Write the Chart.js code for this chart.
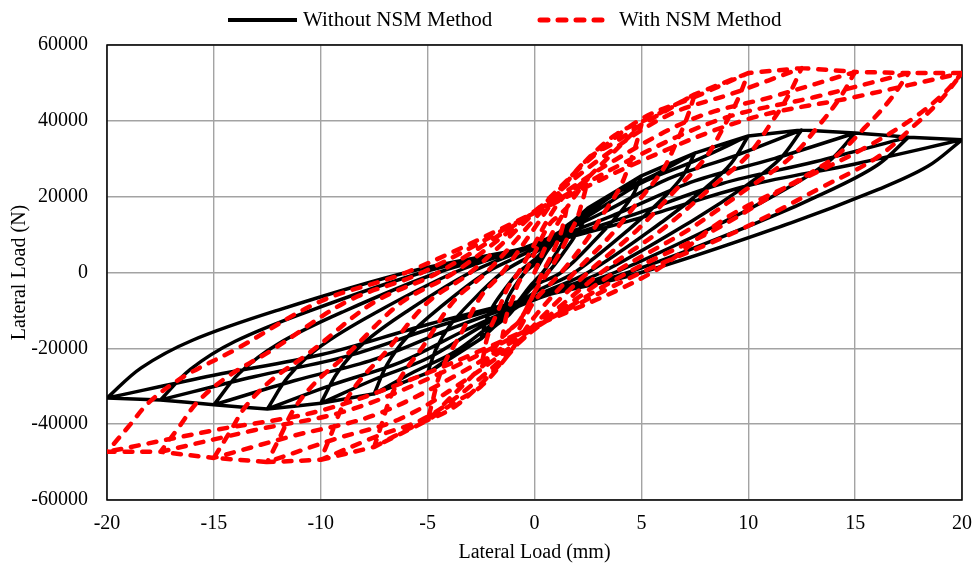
<!DOCTYPE html>
<html>
<head>
<meta charset="utf-8">
<script src="https://cdn.jsdelivr.net/npm/chart.js@4.4.0/dist/chart.umd.min.js"></script>
<style>
  html, body { margin: 0; padding: 0; background: #fff; }
  canvas { display: block; }
</style>
</head>
<body>
<canvas id="hysteresis" width="973" height="567"></canvas>
<script>
// axis ticks
const xTicks = [-20, -15, -10, -5, 0, 5, 10, 15, 20];
const yTicks = [-60000, -40000, -20000, 0, 20000, 40000, 60000];
const seriesNames = ["Without NSM Method", "With NSM Method"];

// load path without NSM, one branch per line [disp mm, load N]
const noNsmPath = [
    [[0,0],[0.7,6500],[1.5,11000]],
    [[1.5,11000],[1.38,8800],[1.2,6820],[0.9,4110],[0.375,0],[0,-2300],[-0.375,-4760],[-0.75,-7540],[-1.125,-9410],[-1.5,-11500]],
    [[-1.5,-11500],[-1.38,-8740],[-1.2,-6210],[-0.9,-3450],[-0.45,0],[0,2200],[0.375,4550],[0.75,7220],[1.125,9000],[1.5,11000]],
    [[1.5,11000],[2.5,17000]],
    [[2.5,17000],[2.3,13600],[2,10540],[1.5,6360],[0.625,0],[0,-2300],[-0.375,-4760],[-0.75,-7540],[-1.125,-9410],[-1.5,-11500]],
    [[-1.5,-11500],[-2.5,-17500]],
    [[-2.5,-17500],[-2.3,-13300],[-2,-9450],[-1.5,-5250],[-0.75,0],[0,3400],[0.625,7040],[1.25,11150],[1.875,13900],[2.5,17000]],
    [[2.5,17000],[5,25500]],
    [[5,25500],[4.6,20400],[4,15810],[3,9540],[1.25,0],[0,-3500],[-0.625,-7250],[-1.25,-11500],[-1.875,-14300],[-2.5,-17500]],
    [[-2.5,-17500],[-5,-26500]],
    [[-5,-26500],[-4.6,-20100],[-4,-14300],[-3,-7950],[-1.5,0],[0,5100],[1.25,10560],[2.5,16730],[3.75,20860],[5,25500]],
    [[5,25500],[7.5,31500]],
    [[7.5,31500],[6.9,25200],[6,19530],[4.5,11780],[1.875,0],[0,-5300],[-1.25,-10970],[-2.5,-17380],[-3.75,-21680],[-5,-26500]],
    [[-5,-26500],[-7.5,-32000]],
    [[-7.5,-32000],[-6.9,-24320],[-6,-17280],[-4.5,-9600],[-2.25,0],[0,6300],[1.875,13040],[3.75,20660],[5.625,25770],[7.5,31500]],
    [[7.5,31500],[10,36000]],
    [[10,36000],[9.2,28800],[8,22320],[6,13460],[2.5,0],[0,-6400],[-1.875,-13250],[-3.75,-20990],[-5.625,-26180],[-7.5,-32000]],
    [[-7.5,-32000],[-10,-34500]],
    [[-10,-34500],[-9.2,-26220],[-8,-18630],[-6,-10350],[-3,0],[0,7200],[2.5,14900],[5,23620],[7.5,29450],[10,36000]],
    [[10,36000],[12.5,37600]],
    [[12.5,37600],[11.5,30080],[10,23310],[7.5,14060],[3.125,0],[0,-6900],[-2.5,-14280],[-5,-22630],[-7.5,-28220],[-10,-34500]],
    [[-10,-34500],[-12.5,-36000]],
    [[-12.5,-36000],[-11.5,-27360],[-10,-19440],[-7.5,-10800],[-3.75,0],[0,7520],[3.125,15570],[6.25,24670],[9.375,30760],[12.5,37600]],
    [[12.5,37600],[15,36800]],
    [[15,36800],[13.8,29440],[12,22820],[9,13760],[3.75,0],[0,-7200],[-3.125,-14900],[-6.25,-23620],[-9.375,-29450],[-12.5,-36000]],
    [[-12.5,-36000],[-15,-34900]],
    [[-15,-34900],[-13.8,-26520],[-12,-18850],[-9,-10470],[-4.5,0],[0,7360],[3.75,15240],[7.5,24140],[11.25,30100],[15,36800]],
    [[15,36800],[17.5,35700]],
    [[17.5,35700],[16.1,28560],[14,22130],[10.5,13350],[4.375,0],[0,-6980],[-3.75,-14450],[-7.5,-22890],[-11.25,-28550],[-15,-34900]],
    [[-15,-34900],[-17.5,-33600]],
    [[-17.5,-33600],[-16.1,-25540],[-14,-18140],[-10.5,-10080],[-5.25,0],[0,7140],[4.375,14780],[8.75,23420],[13.125,29200],[17.5,35700]],
    [[17.5,35700],[20,35000]],
    [[20,35000],[18.4,28000],[16,21700],[12,13090],[5,0],[0,-6720],[-4.375,-13910],[-8.75,-22040],[-13.125,-27480],[-17.5,-33600]],
    [[-17.5,-33600],[-20,-33100]],
    [[-20,-33100],[-18.4,-25160],[-16,-17870],[-12,-9930],[-6,0],[0,7000],[5,14490],[10,22960],[15,28630],[20,35000]],
    [[20,35000],[18.4,28000],[16,21700],[12,13090],[5,0],[0,-6620],[-5,-13700],[-10,-21710],[-15,-27080],[-20,-33100]]
];

// load path with NSM
const nsmPath = [
    [[0,0],[0.7,9000],[1.5,17000]],
    [[1.5,17000],[1.425,14700],[1.33,12410],[1.2,9780],[0.99,7040],[0.72,3620],[0.375,0],[0,-5100],[-0.375,-9520],[-0.75,-13090],[-1.125,-14960],[-1.5,-17000]],
    [[-1.5,-17000],[-1.425,-14620],[-1.35,-12240],[-1.23,-9860],[-1.05,-7310],[-0.75,-2720],[-0.45,0],[0,5100],[0.375,9520],[0.75,13090],[1.125,14960],[1.5,17000]],
    [[1.5,17000],[2.5,25000]],
    [[2.5,25000],[2.375,21630],[2.21,18250],[2,14380],[1.65,10350],[1.2,5330],[0.625,0],[0,-5100],[-0.375,-9520],[-0.75,-13090],[-1.125,-14960],[-1.5,-17000]],
    [[-1.5,-17000],[-2.5,-25000]],
    [[-2.5,-25000],[-2.375,-21500],[-2.25,-18000],[-2.05,-14500],[-1.75,-10750],[-1.25,-4000],[-0.75,0],[0,7500],[0.625,14000],[1.25,19250],[1.875,22000],[2.5,25000]],
    [[2.5,25000],[5,39000]],
    [[5,39000],[4.75,33740],[4.43,28470],[4,22430],[3.3,16150],[2.4,8310],[1.25,0],[0,-7500],[-0.625,-14000],[-1.25,-19250],[-1.875,-22000],[-2.5,-25000]],
    [[-2.5,-25000],[-5,-39000]],
    [[-5,-39000],[-4.75,-33540],[-4.5,-28080],[-4.1,-22620],[-3.5,-16770],[-2.5,-6240],[-1.5,0],[0,11700],[1.25,21840],[2.5,30030],[3.75,34320],[5,39000]],
    [[5,39000],[7.5,47000]],
    [[7.5,47000],[7.125,40660],[6.64,34310],[6,27030],[4.95,19460],[3.6,10010],[1.875,0],[0,-11700],[-1.25,-21840],[-2.5,-30030],[-3.75,-34320],[-5,-39000]],
    [[-5,-39000],[-7.5,-46000]],
    [[-7.5,-46000],[-7.125,-39560],[-6.75,-33120],[-6.15,-26680],[-5.25,-19780],[-3.75,-7360],[-2.25,0],[0,14100],[1.875,26320],[3.75,36190],[5.625,41360],[7.5,47000]],
    [[7.5,47000],[10,52600]],
    [[10,52600],[9.5,45500],[8.85,38400],[8,30250],[6.6,21780],[4.8,11200],[2.5,0],[0,-13800],[-1.875,-25760],[-3.75,-35420],[-5.625,-40480],[-7.5,-46000]],
    [[-7.5,-46000],[-10,-49400]],
    [[-10,-49400],[-9.5,-42480],[-9,-35570],[-8.2,-28650],[-7,-21240],[-5,-7900],[-3,0],[0,15780],[2.5,29460],[5,40500],[7.5,46290],[10,52600]],
    [[10,52600],[12.5,53900]],
    [[12.5,53900],[11.875,46620],[11.06,39350],[10,30990],[8.25,22310],[6,11480],[3.125,0],[0,-14820],[-2.5,-27660],[-5,-38040],[-7.5,-43470],[-10,-49400]],
    [[-10,-49400],[-12.5,-50000]],
    [[-12.5,-50000],[-11.875,-43000],[-11.25,-36000],[-10.25,-29000],[-8.75,-21500],[-6.25,-8000],[-3.75,0],[0,16170],[3.125,30180],[6.25,41500],[9.375,47430],[12.5,53900]],
    [[12.5,53900],[15,52900]],
    [[15,52900],[14.25,45760],[13.28,38620],[12,30420],[9.9,21900],[7.2,11270],[3.75,0],[0,-15000],[-3.125,-28000],[-6.25,-38500],[-9.375,-44000],[-12.5,-50000]],
    [[-12.5,-50000],[-15,-48900]],
    [[-15,-48900],[-14.25,-42050],[-13.5,-35210],[-12.3,-28360],[-10.5,-21030],[-7.5,-7820],[-4.5,0],[0,15870],[3.75,29620],[7.5,40730],[11.25,46550],[15,52900]],
    [[15,52900],[17.5,52600]],
    [[17.5,52600],[16.625,45500],[15.49,38400],[14,30250],[11.55,21780],[8.4,11200],[4.375,0],[0,-14670],[-3.75,-27380],[-7.5,-37650],[-11.25,-43030],[-15,-48900]],
    [[-15,-48900],[-17.5,-47300]],
    [[-17.5,-47300],[-16.625,-40680],[-15.75,-34060],[-14.35,-27430],[-12.25,-20340],[-8.75,-7570],[-5.25,0],[0,15780],[4.375,29460],[8.75,40500],[13.125,46290],[17.5,52600]],
    [[17.5,52600],[20,52600]],
    [[20,52600],[19,45500],[17.7,38400],[16,30250],[13.2,21780],[9.6,11200],[5,0],[0,-14190],[-4.375,-26490],[-8.75,-36420],[-13.125,-41620],[-17.5,-47300]],
    [[-17.5,-47300],[-20,-47300]],
    [[-20,-47300],[-19,-40680],[-18,-34060],[-16.4,-27430],[-14,-20340],[-10,-7570],[-6,0],[0,15780],[5,29460],[10,40500],[15,46290],[20,52600]],
    [[20,52600],[19.2,47500],[17.8,41000],[15.5,33000],[12.5,24500],[9,14500],[5.5,0],[0,-14190],[-5,-26490],[-10,-36420],[-15,-41620],[-20,-47300]]
];

const FONT = '"Liberation Serif", "Times New Roman", serif';

// branches share their end points, which keeps the load reversals sharp
const toPoints = branches => branches.flat().map(([x, y]) => ({ x, y }));

// black frame round the plot area
const plotFrame = {
    id: 'plotFrame',
    beforeDatasetsDraw(chart) {
        const { ctx, chartArea: a } = chart;
        ctx.save();
        ctx.strokeStyle = '#000';
        ctx.lineWidth = 1.5;
        ctx.strokeRect(a.left, a.top, a.right - a.left, a.bottom - a.top);
        ctx.restore();
    }
};

// legend row above the plot
const legendSpots = [{ x0: 228, x1: 297, tx: 303 }, { x0: 540, x1: 612, tx: 619 }];
const topLegend = {
    id: 'topLegend',
    afterDraw(chart) {
        const ctx = chart.ctx;
        const y = 20;
        ctx.save();
        ctx.font = '21px ' + FONT;
        ctx.textBaseline = 'middle';
        ctx.fillStyle = '#000';
        chart.data.datasets.forEach((ds, i) => {
            const s = legendSpots[i];
            ctx.beginPath();
            ctx.strokeStyle = ds.borderColor;
            ctx.lineWidth = ds.borderWidth + 0.5;
            ctx.lineCap = ds.borderCapStyle || 'butt';
            ctx.setLineDash(ds.borderDash || []);
            ctx.moveTo(s.x0, y);
            ctx.lineTo(s.x1, y);
            ctx.stroke();
            ctx.fillText(ds.label, s.tx, y);
        });
        ctx.restore();
    }
};

const ctx = document.getElementById('hysteresis');

new Chart(ctx, {
    type: 'scatter',
    data: {
        datasets: [
            {
                label: seriesNames[0],
                data: toPoints(noNsmPath),
                showLine: true,
                borderColor: '#000000',
                borderWidth: 3.5,
                borderJoinStyle: 'round',
                pointRadius: 0,
                tension: 0.35,
                order: 2
            },
            {
                label: seriesNames[1],
                data: toPoints(nsmPath),
                showLine: true,
                borderColor: '#ff0000',
                borderWidth: 4.5,
                borderDash: [8, 10],
                borderCapStyle: 'round',
                borderJoinStyle: 'round',
                pointRadius: 0,
                tension: 0.35,
                order: 1
            }
        ]
    },
    options: {
        responsive: false,
        animation: false,
        devicePixelRatio: 1,
        layout: { padding: { top: 45, right: 11, left: 0, bottom: 0 } },
        plugins: {
            legend: { display: false },
            tooltip: { enabled: false }
        },
        scales: {
            x: {
                type: 'linear',
                min: -20,
                max: 20,
                afterBuildTicks: scale => { scale.ticks = xTicks.map(v => ({ value: v })); },
                afterFit: scale => {
                    scale.height = 67;
                    // end labels may hang past the plot edges
                    scale.paddingLeft = 0;
                    scale.paddingRight = 0;
                },
                border: { display: false },
                grid: { color: '#a3a3a3', lineWidth: 1.4, drawTicks: false },
                ticks: {
                    padding: 12,
                    color: '#000',
                    autoSkip: false,
                    maxRotation: 0,
                    font: { family: FONT, size: 20 },
                    callback: v => String(v)
                },
                title: {
                    display: true,
                    text: 'Lateral Load (mm)',
                    color: '#000',
                    font: { family: FONT, size: 20 },
                    padding: { top: 0, bottom: 2 }
                }
            },
            y: {
                type: 'linear',
                min: -60000,
                max: 60000,
                afterBuildTicks: scale => { scale.ticks = yTicks.map(v => ({ value: v })); },
                afterFit: scale => { scale.width = 107; },
                border: { display: false },
                grid: { color: '#a3a3a3', lineWidth: 1.4, drawTicks: false },
                ticks: {
                    padding: 19,
                    color: '#000',
                    autoSkip: false,
                    font: { family: FONT, size: 20 },
                    callback: v => String(v)
                },
                title: {
                    display: true,
                    text: 'Lateral Load (N)',
                    color: '#000',
                    font: { family: FONT, size: 20 },
                    padding: { top: 8, bottom: 0 }
                }
            }
        }
    },
    plugins: [plotFrame, topLegend]
});
</script>
</body>
</html>
